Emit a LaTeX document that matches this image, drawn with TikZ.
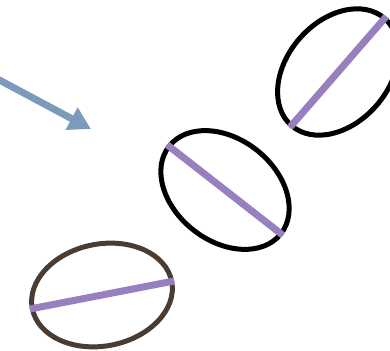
\documentclass[tikz,border=0pt]{standalone}
\definecolor{ringbrown}{RGB}{74,60,48}
\definecolor{axispurple}{RGB}{152,128,190}
\definecolor{arrowblue}{RGB}{124,154,187}
\usetikzlibrary{arrows.meta,shapes.geometric}

\begin{document}
\begin{tikzpicture}[x=1pt, y=1pt,
    ring/.style={ellipse, draw=black, line width=5pt, minimum width=142pt, minimum height=102pt, inner sep=0pt},
    diameter/.style={line width=7pt, draw=axispurple},
    arrow/.style={-{Triangle[length=22pt,width=24pt]}, line width=7pt, draw=arrowblue}
]
    \useasboundingbox (0,0) rectangle (390,350);

    % Rings
    \node[ring, draw=ringbrown, rotate=11] (low) at (102,55) {};
    \node[ring, rotate=-38] (mid) at (225,160) {};
    \node[ring, rotate=49] (top) at (338,278) {};

    % Diameters
    \foreach \e in {low,mid,top} \draw[diameter] (\e.west) -- (\e.east);

    % Arrow
    \coordinate (start) at (-10,275);
    \coordinate (tip) at (91,221);
    \draw[arrow] (start) -- (tip);
\end{tikzpicture}
\end{document}
